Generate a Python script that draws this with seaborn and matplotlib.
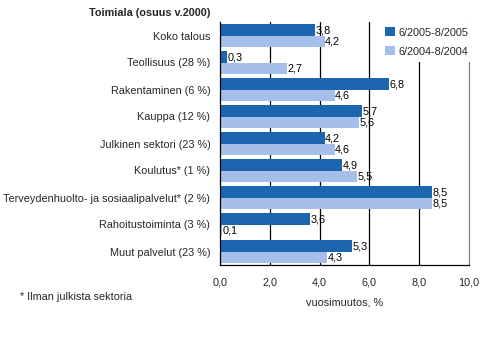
import matplotlib
matplotlib.use("Agg")
import matplotlib.pyplot as plt
import seaborn as sns
import pandas as pd

categories = [
    "Koko talous",
    "Teollisuus (28 %)",
    "Rakentaminen (6 %)",
    "Kauppa (12 %)",
    "Julkinen sektori (23 %)",
    "Koulutus* (1 %)",
    "Terveydenhuolto- ja sosiaalipalvelut* (2 %)",
    "Rahoitustoiminta (3 %)",
    "Muut palvelut (23 %)",
]
series_names = ["6/2005-8/2005", "6/2004-8/2004"]
values_2005 = [3.8, 0.3, 6.8, 5.7, 4.2, 4.9, 8.5, 3.6, 5.3]
values_2004 = [4.2, 2.7, 4.6, 5.6, 4.6, 5.5, 8.5, 0.1, 4.3]
x_ticks = [0, 2, 4, 6, 8, 10]

colors = ["#1C65AF", "#A6BEEA"]
FS = 7.8

df = pd.DataFrame({
    "Toimiala": categories * 2,
    "Jakso": [series_names[0]] * len(categories) + [series_names[1]] * len(categories),
    "Muutos": values_2005 + values_2004,
})

sns.set_theme(style="white")
plt.rcParams["font.family"] = ["Liberation Sans", "DejaVu Sans"]

fig = plt.figure(figsize=(4.96, 3.43), dpi=100)
ax = fig.add_axes([220 / 496, 1 - 265 / 343, 249 / 496, 243 / 343])

sns.barplot(
    data=df, y="Toimiala", x="Muutos", hue="Jakso",
    orient="h", palette=colors, width=0.82, ax=ax,
    saturation=1, linewidth=0, legend=True,
)

# value labels at the end of each bar
for cont in ax.containers:
    for bar in cont:
        w = bar.get_width()
        y = bar.get_y() + bar.get_height() / 2
        ax.text(w + 0.02, y + 0.02, f"{w:.1f}".replace(".", ","), va="center",
                ha="left", fontsize=FS, color="black")

ax.set_xlim(0, 10)
ax.set_xticks(x_ticks)
ax.set_xticklabels([f"{t:.1f}".replace(".", ",") for t in x_ticks], fontsize=FS)
ax.tick_params(axis="x", direction="out", length=4, width=0.8, color="black", pad=5)
ax.tick_params(axis="y", length=0, labelsize=FS, pad=7)
ax.set_ylabel("")
ax.set_xlabel("vuosimuutos, %", fontsize=FS, labelpad=7)

for x in x_ticks[1:-1]:
    ax.axvline(x, color="black", linewidth=0.9, zorder=0)

ax.spines["top"].set_visible(False)
ax.spines["left"].set_color("black")
ax.spines["bottom"].set_color("black")
ax.spines["right"].set_color("#808080")
for s in ["left", "bottom", "right"]:
    ax.spines[s].set_linewidth(0.9)

leg = ax.legend(
    loc="upper left", bbox_to_anchor=(160 / 249, 1.0), frameon=True,
    fontsize=FS, handlelength=0.9, handleheight=0.9, handletextpad=0.3,
    labelspacing=0.8, borderpad=0.5, borderaxespad=0,
)
leg.get_frame().set_facecolor("white")
leg.get_frame().set_edgecolor("none")
leg.get_frame().set_alpha(1)
leg.set_zorder(5)

fig.text(210 / 496, 1 - 13 / 343, "Toimiala (osuus v.2000)", ha="right", va="center",
         fontsize=FS, fontweight="bold")
fig.text(20 / 496, 1 - 297 / 343, "* Ilman julkista sektoria", ha="left", va="center",
         fontsize=FS)

fig.savefig("out.png", dpi=100, facecolor="white")
